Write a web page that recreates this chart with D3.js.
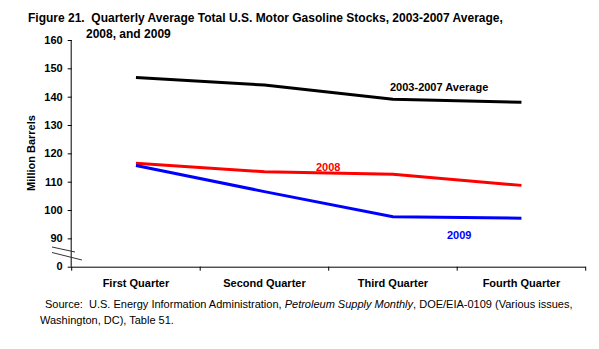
<!DOCTYPE html>
<html><head><meta charset="utf-8">
<script src="https://cdn.jsdelivr.net/npm/d3@7"></script>
<style>
body{margin:0;background:#fff;}
text{font-family:Arial,"Liberation Sans",sans-serif;white-space:pre;}
</style></head>
<body><svg id="c" width="599" height="349"></svg>
<script>
const categories = ["First Quarter","Second Quarter","Third Quarter","Fourth Quarter"];
const avg0307 = [146.8, 144.1, 139.1, 138.0];
const y2008 = [116.5, 113.5, 112.6, 108.7];
const y2009 = [115.7, 106.5, 97.6, 97.1];
const yTicks = [90,100,110,120,130,140,150,160];
const seriesNames = ["2003-2007 Average","2008","2009"];
const seriesColors = ["#000000","#FF0000","#0000FF"];

(function(){
const svg = d3.select("#c");
const pL = 71.7, pR = 585.7, pT = 40, pB = 266.7;
const x = d3.scaleBand().domain(categories).range([pL, pR]);
const y = d3.scaleLinear().domain([80,160]).range([pB, pT]);

// title
svg.append("text").attr("x",28).attr("y",22).attr("font-size",12).attr("font-weight","bold")
  .text("Figure 21.  Quarterly Average Total U.S. Motor Gasoline Stocks, 2003-2007 Average,");
svg.append("text").attr("x",86).attr("y",38).attr("font-size",12).attr("font-weight","bold")
  .text("2008, and 2009");

// y axis
const ya = svg.append("g").attr("transform",`translate(${pL},0)`)
  .call(d3.axisLeft(y).tickValues(yTicks).tickSize(4).tickPadding(5).tickFormat(d3.format("d")));
ya.select(".domain").attr("d",`M-0.5,${pT}V${pB}`).attr("stroke","#000");
ya.selectAll("text").attr("font-size",11).attr("font-weight","bold").attr("font-family","Arial, 'Liberation Sans', sans-serif").attr("fill","#000");
ya.append("text").attr("x",-9).attr("y",pB).attr("dy","0.32em").attr("text-anchor","end")
  .attr("font-size",11).attr("font-weight","bold").attr("fill","#000").text("0");
ya.append("line").attr("x1",-4).attr("x2",0).attr("y1",pB+0.5).attr("y2",pB+0.5).attr("stroke","#000");

// x axis
const xa = svg.append("g").attr("transform",`translate(0,${pB})`);
xa.append("line").attr("x1",pL).attr("x2",pR).attr("y1",0.5).attr("y2",0.5).attr("stroke","#000");
const bounds = categories.map(c=>x(c)).concat([pR]);
xa.selectAll("line.tk").data(bounds).join("line").attr("class","tk")
  .attr("x1",d=>d).attr("x2",d=>d).attr("y1",0).attr("y2",4).attr("stroke","#000");
xa.selectAll("text").data(categories).join("text")
  .attr("x",d=>x(d)+x.bandwidth()/2).attr("y",20).attr("text-anchor","middle")
  .attr("font-size",11).attr("font-weight","bold").text(d=>d);

// break marks
svg.append("line").attr("x1",52).attr("y1",247).attr("x2",75).attr("y2",252).attr("stroke","#333").attr("stroke-width",1);
svg.append("line").attr("x1",52).attr("y1",252.5).attr("x2",82).attr("y2",260).attr("stroke","#333").attr("stroke-width",1);

// y label
svg.append("text").attr("transform","translate(35,153) rotate(-90)").attr("text-anchor","middle")
  .attr("font-size",11).attr("font-weight","bold").text("Million Barrels");

// lines
const line = d3.line().x((d,i)=>x(categories[i])+x.bandwidth()/2).y(d=>y(d));
[avg0307,y2008,y2009].forEach((s,i)=>{
  svg.append("path").datum(s).attr("d",line).attr("fill","none")
    .attr("stroke",seriesColors[i]).attr("stroke-width",3);
});

// series labels
svg.append("text").attr("x",390).attr("y",91).attr("font-size",11).attr("font-weight","bold").attr("fill",seriesColors[0]).text(seriesNames[0]);
svg.append("text").attr("x",316).attr("y",171).attr("font-size",11).attr("font-weight","bold").attr("fill",seriesColors[1]).text(seriesNames[1]);
svg.append("text").attr("x",447).attr("y",239).attr("font-size",11).attr("font-weight","bold").attr("fill",seriesColors[2]).text(seriesNames[2]);

// source
const s1 = svg.append("text").attr("x",45).attr("y",308).attr("font-size",11);
s1.append("tspan").text("Source:  U.S. Energy Information Administration, ");
s1.append("tspan").attr("font-style","italic").text("Petroleum Supply Monthly");
s1.append("tspan").text(", DOE/EIA-0109 (Various issues,");
svg.append("text").attr("x",40).attr("y",324).attr("font-size",11).text("Washington, DC), Table 51.");
})();
</script></body></html>
